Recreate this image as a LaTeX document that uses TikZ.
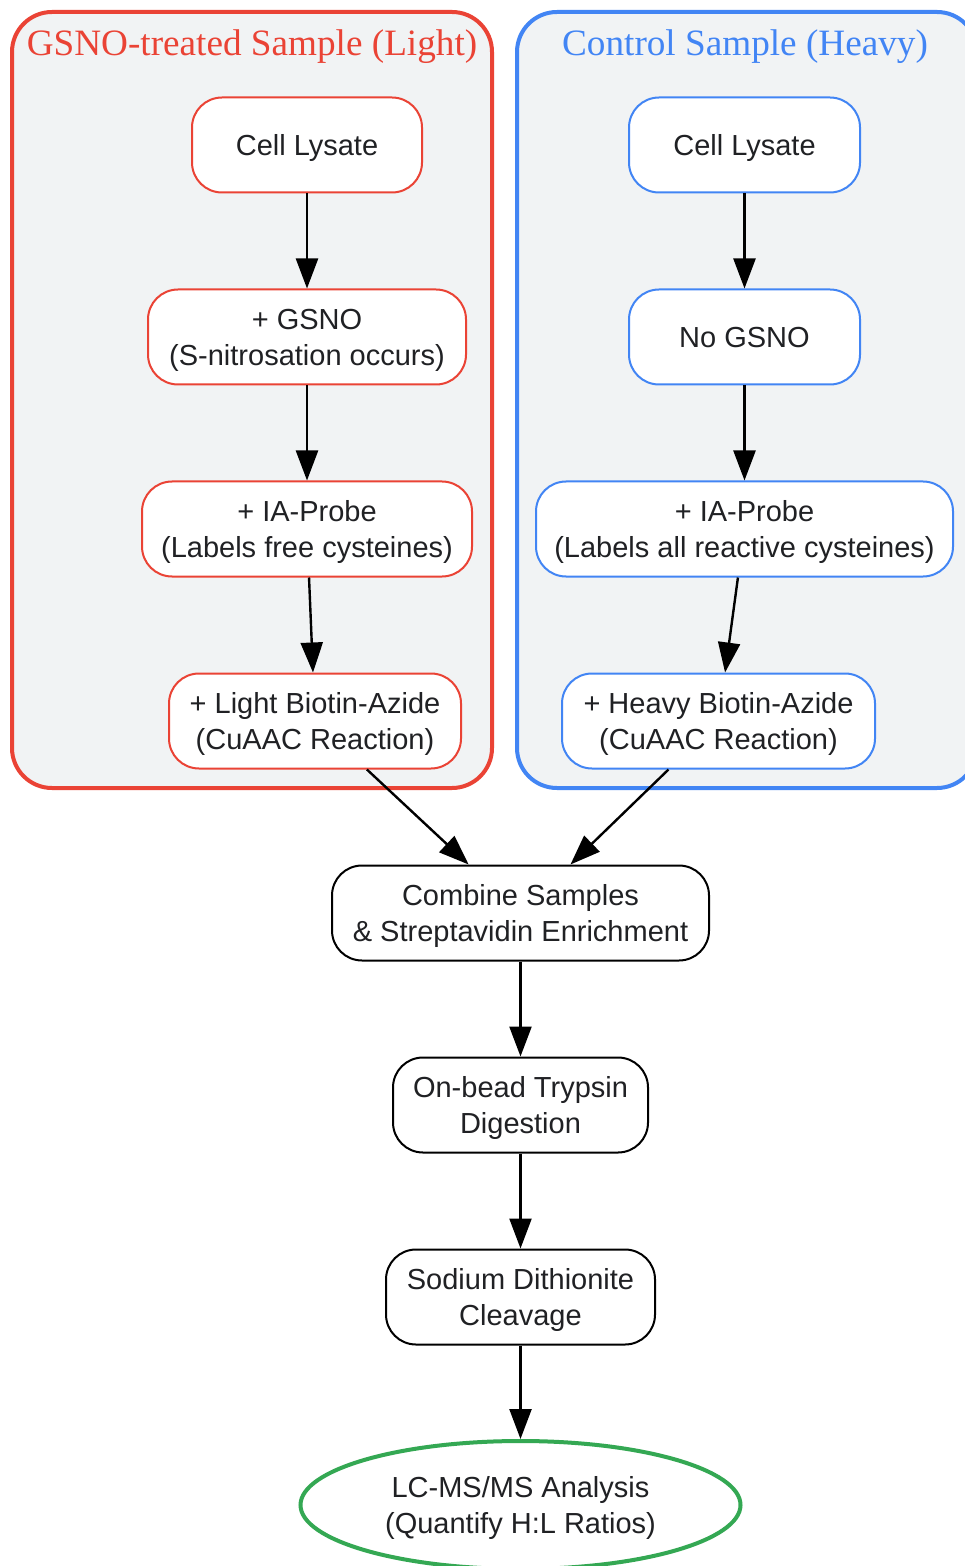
\documentclass[tikz,border=0pt]{standalone}
\usepackage{fontspec}
\setmainfont{Liberation Serif}
\newfontfamily\nodefont{Liberation Sans}
\usetikzlibrary{arrows.meta,shapes.geometric,calc}
\definecolor{gred}{HTML}{EA4335}
\definecolor{gblue}{HTML}{4285F4}
\definecolor{ggreen}{HTML}{34A853}
\definecolor{clbg}{HTML}{F1F3F4}
\definecolor{txt}{HTML}{202124}
\newcommand\lbl[1]{\raisebox{-1.7pt}[\height][\depth]{\begin{tabular}{@{}c@{}}#1\end{tabular}}}
\begin{document}
\begin{tikzpicture}[x=0.5pt,y=-0.5pt,
  box/.style={draw, rounded corners=15pt, fill=white, line width=1pt,
    minimum height=47.5pt, align=center, inner sep=0pt, text=txt,
    font=\nodefont\fontsize{14.5}{18}\selectfont},
  redbox/.style={box, draw=gred},
  bluebox/.style={box, draw=gblue},
  blackbox/.style={box, draw=black},
  cluster/.style={line width=2pt, fill=clbg, rounded corners=20pt},
  ctitle/.style={font=\fontsize{18.6}{22}\selectfont, inner sep=0pt},
  arr/.style={draw=black, line width=1.2pt, -{Triangle[length=15pt,width=11pt]}}
]
\useasboundingbox (0,0) rectangle (964,1566);
\fill[white] (0,0) rectangle (964,1566);

% clusters
\draw[cluster, draw=gred] (12,12) rectangle (492,788);
\draw[cluster, draw=gblue] (517,12) rectangle (977,788);
\node[ctitle, text=gred] (t1) at (252,47) {GSNO-treated Sample (Light)};
\node[ctitle, text=gblue] (t2) at (745,47) {Control Sample (Heavy)};

% left column
\node[redbox, minimum width=115pt] (L1) at (307,145) {\lbl{Cell Lysate}};
\node[redbox, minimum width=159pt] (L2) at (307,337) {\lbl{+ GSNO\\(S-nitrosation occurs)}};
\node[redbox, minimum width=165pt] (L3) at (307,529) {\lbl{+ IA-Probe\\(Labels free cysteines)}};
\node[redbox, minimum width=146pt] (L4) at (315,721) {\lbl{+ Light Biotin-Azide\\(CuAAC Reaction)}};

% right column
\node[bluebox, minimum width=115.5pt] (R1) at (744.5,145) {\lbl{Cell Lysate}};
\node[bluebox, minimum width=115.5pt] (R2) at (744.5,337) {\lbl{No GSNO}};
\node[bluebox, minimum width=208.5pt] (R3) at (744.5,529) {\lbl{+ IA-Probe\\(Labels all reactive cysteines)}};
\node[bluebox, minimum width=156.5pt] (R4) at (718.5,721) {\lbl{+ Heavy Biotin-Azide\\(CuAAC Reaction)}};

% common
\node[blackbox, minimum width=188.5pt] (C) at (520.5,913) {\lbl{Combine Samples\\\& Streptavidin Enrichment}};
\node[blackbox, minimum width=127.5pt] (T) at (520.5,1105) {\lbl{On-bead Trypsin\\Digestion}};
\node[blackbox, minimum width=134.5pt] (D) at (520.5,1297) {\lbl{Sodium Dithionite\\Cleavage}};
\node[ellipse, draw=ggreen, line width=2pt, fill=white, minimum width=220pt, minimum height=64pt,
  inner sep=0pt, align=center, text=txt, font=\nodefont\fontsize{14.5}{18}\selectfont]
  (E) at (520.5,1505) {\lbl{LC-MS/MS Analysis\\(Quantify H:L Ratios)}};

% edges
\draw[arr] (L1) -- (L2);
\draw[arr] (L2) -- (L3);
\draw[arr] (L3) -- (L4);
\draw[arr] (R1) -- (R2);
\draw[arr] (R2) -- (R3);
\draw[arr] (R3) -- (R4);
\draw[arr] (L4) -- (C);
\draw[arr] (R4) -- (C);
\draw[arr] (C) -- (T);
\draw[arr] (T) -- (D);
\draw[arr] (D) -- (E);
\end{tikzpicture}
\end{document}
